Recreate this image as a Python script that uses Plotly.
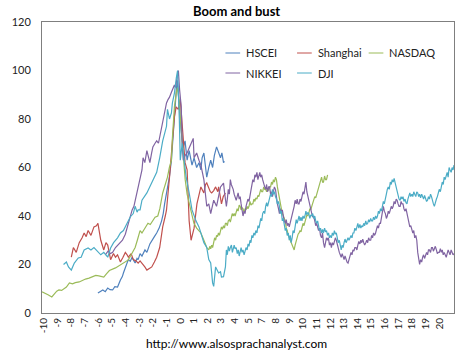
import plotly.graph_objects as go

# ---------------- data (x = years relative to the peak, index units of the category axis) -------------
tick_labels = ["-10", "-9", "-8", "-7", "-6", "-5", "-4", "-3", "-2", "-1", "0", "1", "2", "3", "4", "5",
               "7", "8", "9", "10", "11", "12", "13", "14", "15", "16", "17", "18", "19", "20"]
tick_positions = list(range(-10, 20))

series_names = ["HSCEI", "Shanghai", "NASDAQ", "NIKKEI", "DJI"]
series_colors = ["#4F81BD", "#C0504D", "#9BBB59", "#8064A2", "#4BACC6"]

hscei_x = [-6.04, -5.83, -5.68, -5.5, -5.32, -5.15, -4.96, -4.8, -4.6, -4.39, -4.25, -4.17, -4.0, -3.81, -3.67,
           -3.53, -3.4, -3.31, -3.17, -3.09, -2.95, -2.81, -2.59, -2.45, -2.23, -2.09, -1.9, -1.73, -1.55, -1.37,
           -1.25, -1.15, -0.94, -0.8, -0.65, -0.5, -0.4, -0.29, -0.22, -0.14, -0.05, 0.07, 0.2, 0.35, 0.5, 0.65,
           0.86, 1.01, 1.2, 1.37, 1.51, 1.6, 1.73, 1.94, 2.09, 2.23, 2.37, 2.5, 2.66, 2.81, 2.95, 3.05, 3.17, 3.24]
hscei_y = [8.2, 9.0, 9.5, 8.8, 10.3, 9.6, 9.5, 10.9, 10.7, 13.6, 15.0, 16.5, 19.5, 22, 21.3,
           23, 21.5, 20.6, 22.5, 22, 24.5, 23.5, 26, 25, 28.5, 30, 31.5, 33, 35, 38,
           41, 45, 52, 56, 63, 77, 85, 92, 96, 90, 82, 75, 68, 71, 63, 67,
           61, 64, 60, 62, 59, 64, 66, 56, 60, 63, 60, 65, 68.5, 66, 64, 66, 62, 62.5]

shanghai_x = [-7.99, -7.84, -7.63, -7.5, -7.41, -7.2, -7.05, -6.9, -6.76, -6.55, -6.33, -6.15, -6.04, -5.95,
              -5.83, -5.61, -5.45, -5.32, -5.2, -5.11, -4.9, -4.75, -4.6, -4.39, -4.2, -4.03, -3.9, -3.81, -3.6,
              -3.45, -3.25, -3.09, -2.95, -2.81, -2.6, -2.45, -2.25, -2.09, -1.9, -1.73, -1.51, -1.29, -1.1,
              -1.01, -0.79, -0.65, -0.58, -0.43, -0.3, -0.15, 0.0, 0.1, 0.2, 0.35, 0.5, 0.58, 0.65, 0.79, 0.9,
              1.01, 1.22, 1.37, 1.51, 1.73, 1.85, 1.94, 2.09, 2.2, 2.3, 2.45, 2.59, 2.75, 2.81, 3.02, 3.15, 3.31]
shanghai_y = [23, 27, 25, 28, 29, 31, 33, 31.5, 34, 32, 35.5, 36, 37, 34,
              30, 26, 29, 28, 24.5, 22, 24.5, 23, 24, 21, 23, 25, 24, 23, 24.5,
              22, 21.5, 20.6, 21.5, 20.6, 19, 17.7, 18.5, 19, 21, 23, 27, 35.5, 40,
              42.5, 56, 67, 70, 81, 85, 84, 88, 80, 72, 62, 59, 45, 38, 30, 33,
              35, 45, 49, 52, 49.5, 53, 53.6, 51, 50, 49.5, 50.5, 52, 50, 52, 45, 48, 49.5]

nasdaq_x = [-10.14, -9.9, -9.7, -9.42, -9.25, -9.06, -8.9, -8.7, -8.35, -8.13, -7.9, -7.7, -7.41, -7.2, -6.95,
            -6.69, -6.45, -6.2, -5.97, -5.8, -5.61, -5.4, -5.2, -4.75, -4.5, -4.24, -4.0, -3.81, -3.6, -3.31,
            -3.15, -2.95, -2.81, -2.6, -2.37, -2.2, -2.01, -1.85, -1.65, -1.5, -1.29, -1.1, -0.94, -0.8, -0.65,
            -0.58, -0.43, -0.29, -0.2, -0.1, 0.05, 0.2, 0.36, 0.5, 0.79, 1.0, 1.2, 1.51, 1.73, 1.94,
            2.09, 2.16, 2.23, 2.3, 2.37, 2.45, 2.52, 2.59, 2.66, 2.73, 2.8, 2.87, 2.95, 3.02, 3.09, 3.17, 3.24,
            3.31, 3.38, 3.45, 3.52, 3.6, 3.67, 3.74, 3.81, 3.88, 3.95, 4.02, 4.1, 4.17, 4.24, 4.32, 4.39, 4.46,
            4.53, 4.6, 4.68, 4.75, 4.82, 4.89, 4.96, 5.04, 5.11, 5.18, 5.25, 5.32, 5.4, 5.47, 5.54, 5.62, 5.69,
            5.76, 5.83, 5.9, 5.97, 6.04, 6.12, 6.19, 6.26, 6.33, 6.4, 6.48, 6.55, 6.62, 6.69, 6.76, 6.83, 6.9,
            6.98, 7.05, 7.12, 7.2, 7.27, 7.34, 7.41, 7.48, 7.55, 7.62, 7.7, 7.77, 7.84, 7.92, 7.99, 8.06, 8.13,
            8.2, 8.27, 8.35, 8.42, 8.5, 8.56, 8.64, 8.71, 8.78, 8.85, 8.92, 9.0, 9.07, 9.14, 9.21, 9.28, 9.35,
            9.42, 9.5, 9.57, 9.64, 9.71, 9.78, 9.86, 9.93, 10.0, 10.07, 10.14, 10.21, 10.28, 10.36, 10.43, 10.5,
            10.58, 10.65, 10.72, 10.8]
nasdaq_y = [8.7, 8.2, 7.5, 6.6, 7.8, 9, 9.5, 9.3, 10.7, 12.4, 12.0, 12.5, 12.8, 13.5, 14,
            14.4, 14.8, 15.5, 15.3, 15.0, 14.8, 16.2, 17.5, 18.6, 19.5, 20.6, 21.5, 21.9, 24, 27,
            30, 34, 33, 35, 37, 36.5, 38, 39.5, 40, 43, 49.5, 53, 56, 60, 63,
            72, 85, 91, 93, 88, 78, 65, 55, 49, 42, 37, 35, 33, 30, 27,
            26, 27.5, 26.5, 28, 27, 29, 31, 30, 32, 31.5, 33, 32, 34, 35.5, 34.5, 36, 35,
            37, 37, 36, 38, 38.5, 37.5, 39, 41, 40, 41, 40, 41.5, 43, 42, 44.5, 44, 42.5,
            43.5, 43, 41.5, 43, 42.5, 44, 43, 44, 46, 44.5, 45, 45, 47, 46, 47.5, 47, 48.5,
            48, 49.5, 51, 50, 50, 52, 51, 51, 50, 51.5, 50.5, 52, 52, 54, 53, 55, 54,
            56, 55, 52, 49, 47, 45, 43, 41, 40, 38.5, 38, 35, 34, 32, 31, 30, 29,
            28, 27, 26, 28, 30, 31, 32.5, 33, 34, 33.5, 35, 37, 36, 38, 39, 40.5, 40,
            41, 43, 42.5, 44, 45.5, 46.5, 48, 47.5, 49, 51, 52, 53.5, 55, 56, 54, 54,
            56.5, 55, 55, 57]

nikkei_x = [-5.5, -5.3, -5.11, -4.96, -4.75, -4.6, -4.39, -4.24, -4.03, -3.81, -3.67, -3.53, -3.4, -3.31, -3.17,
            -3.09, -2.95, -2.81, -2.73, -2.6, -2.45, -2.3, -2.23, -2.1, -2.01, -1.85, -1.73, -1.6, -1.51, -1.37,
            -1.29, -1.15, -1.01, -0.9, -0.79, -0.65, -0.58, -0.43, -0.36, -0.22, -0.14, -0.05, 0.07, 0.14, 0.22,
            0.36, 0.5, 0.65, 0.79, 0.95, 1.01, 1.2, 1.37, 1.51, 1.73, 1.94, 2.09, 2.23, 2.45, 2.66, 2.95,
            3.17, 3.24, 3.31, 3.38, 3.45, 3.52, 3.6, 3.67, 3.74, 3.81, 3.88, 3.95, 4.02, 4.1, 4.17, 4.24, 4.32,
            4.39, 4.46, 4.53, 4.6, 4.68, 4.75, 4.82, 4.89, 4.96, 5.04, 5.11, 5.18, 5.25, 5.32, 5.4, 5.47, 5.54,
            5.62, 5.69, 5.76, 5.83, 5.9, 5.97, 6.04, 6.12, 6.19, 6.26, 6.33, 6.4, 6.48, 6.55, 6.62, 6.69, 6.76,
            6.83, 6.9, 6.98, 7.05, 7.12, 7.2, 7.27, 7.34, 7.41, 7.48, 7.55, 7.62, 7.7, 7.77, 7.84, 7.92, 7.99,
            8.06, 8.13, 8.2, 8.27, 8.35, 8.42, 8.5, 8.57, 8.64, 8.71, 8.78, 8.85, 8.92, 9.0, 9.07, 9.14, 9.21,
            9.28, 9.35, 9.42, 9.5, 9.57, 9.64, 9.71, 9.78, 9.86, 9.93, 10.0, 10.07, 10.14, 10.21, 10.28, 10.36,
            10.43, 10.5, 10.58, 10.65, 10.72, 10.79, 10.86, 10.94, 11.01, 11.08, 11.15, 11.23, 11.3, 11.37,
            11.44, 11.51, 11.58, 11.66, 11.73, 11.8, 11.87, 11.94, 12.01, 12.08, 12.16, 12.23, 12.3, 12.37,
            12.44, 12.52, 12.59, 12.66, 12.73, 12.8, 12.88, 12.95, 13.02, 13.09, 13.17, 13.24, 13.31, 13.38,
            13.45, 13.52, 13.6, 13.67, 13.74, 13.81, 13.88, 13.96, 14.03, 14.1, 14.17, 14.25, 14.32, 14.39,
            14.46, 14.53, 14.6, 14.68, 14.75, 14.82, 14.89, 14.96, 15.04, 15.11, 15.18, 15.25, 15.32, 15.4,
            15.47, 15.54, 15.61, 15.68, 15.76, 15.83, 15.9, 15.97, 16.04, 16.12, 16.19, 16.26, 16.33, 16.4,
            16.48, 16.55, 16.62, 16.69, 16.76, 16.83, 16.9, 16.98, 17.05, 17.12, 17.19, 17.27, 17.34, 17.41,
            17.48, 17.55, 17.62, 17.7, 17.77, 17.84, 17.91, 17.98, 18.06, 18.13, 18.2, 18.27, 18.35, 18.42,
            18.49, 18.56, 18.63, 18.7, 18.78, 18.85, 18.92, 18.99, 19.07, 19.14, 19.21, 19.28, 19.35, 19.42,
            19.5, 19.57, 19.64, 19.71, 19.78, 19.86, 19.93, 20.0, 20.07]
nikkei_y = [24, 25.5, 24.5, 25, 27, 28, 29, 30, 32.5, 37, 39, 42.5, 44, 46.5, 49,
            52, 55.5, 59, 64, 62, 67, 64, 62, 66, 68.5, 70, 71, 70, 72.5, 75,
            78, 82, 86.6, 88, 89, 91, 92, 94, 93, 98, 100, 92, 85, 70, 63,
            65, 66, 68, 70, 72, 64, 66, 63, 61, 55, 44, 45, 41, 46.5, 44, 52,
            53.6, 50, 47, 44, 47, 51, 49, 55, 53, 52, 51, 49, 48, 46.5, 48, 49.5, 47,
            48, 45, 43, 40, 42, 41, 44, 45.5, 47, 46, 48, 50, 53, 55, 54, 57, 56,
            58, 55, 57, 58, 56, 57, 55, 53, 52, 51, 53, 50, 52, 52, 49, 50, 48,
            50, 52, 51, 47, 45, 43, 41, 43, 41.5, 42.5, 40, 38, 37, 38.5, 36, 37, 35.5,
            37, 39, 40, 42, 44, 46.5, 45, 47, 45, 45, 47, 46, 48, 50, 49, 52, 54,
            50, 48, 46.5, 44, 42, 41, 39.5, 40, 38, 36, 37, 35, 34, 35, 32, 31,
            33, 29, 27, 29, 31, 30, 31, 28, 29, 27, 29, 28, 30, 31,
            30, 28, 26, 25, 24, 23, 24.5, 23, 22, 23.5, 22, 21, 20.6, 22,
            24, 25, 24, 26, 25.5, 27, 27, 26, 28, 29.5, 28.5, 30, 29, 30.5,
            29, 28, 29, 30, 29, 31, 30, 30, 32, 31, 33, 32, 33, 35,
            36, 35, 37, 37, 40, 42, 44, 42, 41, 39, 40, 42, 41, 42.5,
            44, 43, 44, 46, 45, 47, 46.5, 45, 44, 44, 46, 45, 45, 43,
            42, 43, 41, 38, 37, 35.5, 36, 34, 33, 34, 31, 32, 30, 25,
            22, 20, 22, 21, 23, 24, 22.5, 24, 25, 24, 26, 26, 25, 27,
            27, 25.5, 26.5, 27.5, 26, 24.5, 25, 25, 26.5, 25, 26, 24, 25, 23.5,
            23, 24.5, 26, 25, 24, 26, 25, 24, 24.5]

dji_x = [-8.56, -8.35, -8.2, -7.99, -7.77, -7.48, -7.27, -7.05, -6.76, -6.55, -6.33, -6.04, -5.83, -5.61, -5.32,
         -5.11, -4.89, -4.6, -4.39, -4.17, -3.88, -3.67, -3.45, -3.31, -3.17, -3.09, -2.95, -2.81, -2.45, -2.09,
         -1.73, -1.51, -1.29, -1.01, -0.94, -0.79, -0.65, -0.58, -0.43, -0.29, -0.2, -0.07, 0.0, 0.14, 0.3,
         0.43, 0.65, 0.86, 1.15, 1.37, 1.73, 1.94, 2.09, 2.23, 2.37, 2.45, 2.59, 2.81, 2.95, 3.02, 3.17,
         3.31, 3.38, 3.45, 3.52, 3.6, 3.67, 3.75, 3.82, 3.88, 3.95, 4.02, 4.1, 4.18, 4.25, 4.32, 4.39, 4.46,
         4.53, 4.6, 4.68, 4.75, 4.82, 4.9, 4.97, 5.04, 5.11, 5.18, 5.25, 5.32, 5.4, 5.47, 5.54, 5.62, 5.7,
         5.77, 5.83, 5.9, 5.97, 6.04, 6.12, 6.19, 6.26, 6.33, 6.4, 6.48, 6.55, 6.62, 6.69, 6.76, 6.83, 6.9,
         6.98, 7.05, 7.12, 7.2, 7.27, 7.34, 7.41, 7.48, 7.55, 7.62, 7.7, 7.77, 7.84, 7.92, 7.99, 8.06, 8.13,
         8.2, 8.27, 8.35, 8.42, 8.5, 8.57, 8.64, 8.71, 8.78, 8.85, 8.92, 9.0, 9.07, 9.14, 9.21, 9.28, 9.35,
         9.42, 9.5, 9.57, 9.64, 9.71, 9.78, 9.86, 9.93, 10.0, 10.07, 10.14, 10.21, 10.28, 10.36, 10.43, 10.5,
         10.58, 10.65, 10.72, 10.8, 10.87, 10.94, 11.01, 11.08, 11.15, 11.23, 11.3, 11.37, 11.44, 11.51,
         11.58, 11.66, 11.73, 11.8, 11.87, 11.94, 12.01, 12.08, 12.16, 12.23, 12.3, 12.37, 12.44, 12.52,
         12.59, 12.66, 12.73, 12.8, 12.88, 12.95, 13.02, 13.09, 13.17, 13.24, 13.31, 13.38, 13.45, 13.52,
         13.6, 13.67, 13.74, 13.81, 13.88, 13.96, 14.03, 14.1, 14.17, 14.25, 14.32, 14.39, 14.46, 14.53,
         14.6, 14.68, 14.75, 14.82, 14.89, 14.96, 15.04, 15.11, 15.18, 15.25, 15.32, 15.4, 15.47, 15.54,
         15.61, 15.68, 15.76, 15.83, 15.9, 15.97, 16.04, 16.12, 16.19, 16.26, 16.33, 16.4, 16.48, 16.55,
         16.62, 16.69, 16.76, 16.83, 16.9, 16.98, 17.05, 17.12, 17.19, 17.27, 17.34, 17.41, 17.48, 17.55,
         17.62, 17.7, 17.77, 17.84, 17.91, 17.98, 18.06, 18.13, 18.2, 18.27, 18.35, 18.42, 18.49, 18.56,
         18.63, 18.7, 18.78, 18.85, 18.92, 18.99, 19.07, 19.14, 19.21, 19.28, 19.35, 19.42, 19.5, 19.57,
         19.64, 19.71, 19.78, 19.86, 19.93, 20.0, 20.07]
dji_y = [20, 21, 19, 17.7, 20.6, 22.7, 23, 26, 26.8, 26, 27, 25, 24, 25, 23,
         26.8, 29, 31, 33, 34, 37, 39.6, 41, 44, 41.6, 42.5, 42.5, 46.5, 49.5, 53.6,
         58, 64, 71, 77, 84, 80, 82.5, 86.6, 90.7, 97, 100, 80, 63, 70, 62,
         56, 49.5, 42.5, 38, 35.5, 29, 27, 22, 20.6, 12.4, 11, 19, 16.5, 17, 14.8, 15,
         19, 26, 24, 27.5, 25.5, 27, 28, 25, 26, 28, 26.5, 27, 24.5, 26, 23.5, 25, 27,
         25, 26, 24, 25.5, 27, 26, 28.5, 27.5, 30, 29, 32, 31, 33, 32, 34, 33, 36,
         35, 37, 39, 38, 41, 42, 41, 44, 45.5, 44, 46, 47, 49, 48, 51, 49, 50,
         48, 47, 45, 46, 44, 41, 42, 38, 39, 36, 34, 35, 32, 33, 30, 32, 29,
         31, 34, 33, 37, 38.5, 37, 39, 40, 38, 39.5, 38, 40, 39, 40, 42, 40.5, 41.5,
         41, 39, 40.5, 40, 41, 39, 40, 38, 37, 38, 35.5, 34, 35, 33, 34.5, 33,
         35, 33.5, 34, 32, 33, 31, 32, 31, 33, 32, 34, 32.5, 33, 31,
         29, 30, 27.5, 26, 28, 27, 29, 30.5, 29, 30, 31, 30, 31.5, 32,
         31, 33, 33, 35, 34, 36, 37, 35, 36.5, 35, 36, 35.5, 37, 36,
         38, 36.5, 37, 38.5, 37.5, 39, 38, 38, 39.5, 38.5, 40, 39, 40, 42,
         41, 43, 42, 44, 46, 45, 48, 49, 51, 52, 51, 54, 53, 55,
         54, 55.5, 53.6, 52, 49.5, 48, 47, 46.5, 48, 47, 48, 46, 47, 45.5,
         45, 47, 48, 49.5, 48, 49, 48, 50, 49, 48, 50, 49.5, 48, 49,
         47.5, 49, 48, 47, 48.5, 47, 46, 46.5, 48, 47, 49, 48, 46, 45,
         44, 46, 47, 48, 50, 51, 50, 52, 54, 53, 56, 55, 57, 58,
         56, 60, 59, 58, 60, 59, 61]

series_x = [hscei_x, shanghai_x, nasdaq_x, nikkei_x, dji_x]
series_y = [hscei_y, shanghai_y, nasdaq_y, nikkei_y, dji_y]

# ---------------- figure -------------
W, H = 467, 354
ML, MR, MT, MB = 35, 12, 22, 41
PW, PH = W - ML - MR, H - MT - MB

fig = go.Figure()
for name, color, xs, ys in zip(series_names, series_colors, series_x, series_y):
    fig.add_trace(go.Scatter(x=xs, y=ys, mode="lines", name=name,
                             line=dict(color=color, width=1.2), showlegend=False))

def px_to_paper(px, py):
    return (px - ML) / PW, (H - MB - py) / PH

# manual legend (two rows, three columns) built from the series lists
annotations = []
shapes = []
for i, (name, color) in enumerate(zip(series_names, series_colors)):
    row, col = divmod(i, 3)
    lx = 222 + col * 73
    ly = 53 + row * 20
    x0, y0 = px_to_paper(lx, ly)
    x1, _ = px_to_paper(lx + 15, ly)
    xt, _ = px_to_paper(lx + 19, ly)
    shapes.append(dict(type="line", xref="paper", yref="paper", x0=x0, x1=x1, y0=y0, y1=y0,
                       line=dict(color=color, width=1)))
    annotations.append(dict(text=name, xref="paper", yref="paper", x=xt, y=y0, xanchor="left",
                            yanchor="middle", showarrow=False,
                            font=dict(family="Lato", size=11, color="#222222")))

tx, ty = px_to_paper(233.5, 11)
annotations.append(dict(text="<b>Boom and bust</b>", xref="paper", yref="paper", x=tx, y=ty,
                        xanchor="center", yanchor="middle", showarrow=False,
                        font=dict(family="Lato", size=13, color="#000000")))
ux, uy = px_to_paper(233.5, 343)
annotations.append(dict(text="http://www.alsosprachanalyst.com", xref="paper", yref="paper", x=ux, y=uy,
                        xanchor="center", yanchor="middle", showarrow=False,
                        font=dict(family="Lato", size=12, color="#000000")))

fig.update_layout(
    width=W, height=H,
    margin=dict(l=ML, r=MR, t=MT, b=MB),
    paper_bgcolor="white", plot_bgcolor="white",
    font=dict(family="Lato", size=11, color="#222222"),
    shapes=shapes, annotations=annotations,
    xaxis=dict(range=[-10.14, 20.07], tickvals=tick_positions, ticktext=tick_labels, tickangle=-90,
               showgrid=False, zeroline=False, showline=True, mirror=True, linecolor="#7f7f7f",
               linewidth=1, ticks="", tickfont=dict(family="Lato", size=10, color="#222222")),
    yaxis=dict(range=[0, 120], tickvals=[0, 20, 40, 60, 80, 100, 120], showgrid=False, zeroline=False,
               showline=True, mirror=True, linecolor="#7f7f7f", linewidth=1, ticks="",
               ticklabelstandoff=8, tickfont=dict(family="Lato", size=11, color="#222222")),
)

fig.write_html("out.html")
